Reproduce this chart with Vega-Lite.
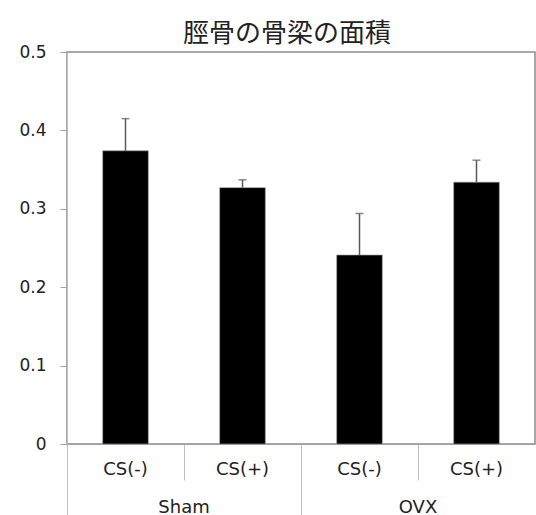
{
  "$schema": "https://vega.github.io/schema/vega-lite/v6.json",
  "autosize": "none",
  "width": 468,
  "height": 392,
  "padding": {"left": 67, "top": 52, "right": 1, "bottom": 71},
  "background": "white",
  "config": {
    "view": {"stroke": "#8c8c8c", "strokeWidth": 1.5},
    "axis": {"labelFont": "DejaVu Sans", "labelFontSize": 18, "labelColor": "#222222", "grid": false}
  },
  "title": {
    "text": "脛骨の骨梁の面積",
    "font": "Noto Sans CJK JP",
    "fontSize": 26,
    "fontWeight": "normal",
    "color": "#222222",
    "anchor": "middle",
    "dx": -14,
    "offset": -4
  },
  "data": {
    "values": [
      {"group": "Sham", "cond": "CS(-)", "key": "Sham CS(-)", "value": 0.374, "upper": 0.415},
      {"group": "Sham", "cond": "CS(+)", "key": "Sham CS(+)", "value": 0.327, "upper": 0.337},
      {"group": "OVX", "cond": "CS(-)", "key": "OVX CS(-)", "value": 0.241, "upper": 0.294},
      {"group": "OVX", "cond": "CS(+)", "key": "OVX CS(+)", "value": 0.334, "upper": 0.362}
    ]
  },
  "layer": [
    {
      "encoding": {
        "x": {
          "field": "key",
          "type": "nominal",
          "sort": ["Sham CS(-)", "Sham CS(+)", "OVX CS(-)", "OVX CS(+)"],
          "scale": {"type": "band", "paddingInner": 0, "paddingOuter": 0},
          "axis": {
            "orient": "bottom",
            "title": null,
            "labelAngle": 0,
            "labelExpr": "split(datum.label, ' ')[1]",
            "bandPosition": 0,
            "tickSize": 36,
            "tickColor": "#c0c0c0",
            "domainColor": "#a0a0a0",
            "labelPadding": -20
          }
        }
      },
      "layer": [
        {
          "mark": {"type": "bar", "color": "#000000", "width": {"band": 0.39}, "stroke": "#9a9a9a", "strokeWidth": 0.6},
          "encoding": {
            "y": {
              "field": "value",
              "type": "quantitative",
              "scale": {"domain": [0, 0.5], "nice": false},
              "axis": {
                "title": null,
                "values": [0, 0.1, 0.2, 0.3, 0.4, 0.5],
                "format": ".1~f",
                "labelFontSize": 17,
                "tickSize": 7,
                "tickColor": "#a0a0a0",
                "domainColor": "#c0c0c0",
                "labelPadding": 14
              }
            }
          }
        },
        {
          "mark": {"type": "rule", "color": "#595959", "strokeWidth": 1.5},
          "encoding": {
            "y": {"field": "value", "type": "quantitative"},
            "y2": {"field": "upper"}
          }
        },
        {
          "mark": {"type": "tick", "color": "#595959", "thickness": 1.5, "size": 8},
          "encoding": {
            "y": {"field": "upper", "type": "quantitative"}
          }
        }
      ]
    },
    {
      "mark": {"type": "point", "opacity": 0},
      "encoding": {
        "x": {
          "field": "group",
          "type": "nominal",
          "sort": ["Sham", "OVX"],
          "scale": {"type": "band", "paddingInner": 0, "paddingOuter": 0},
          "axis": {
            "orient": "bottom",
            "title": null,
            "labelAngle": 0,
            "domain": false,
            "bandPosition": 0,
            "tickSize": 71,
            "tickColor": "#c0c0c0",
            "labelPadding": -17
          }
        }
      }
    }
  ],
  "resolve": {"scale": {"x": "independent"}, "axis": {"x": "independent"}}
}
